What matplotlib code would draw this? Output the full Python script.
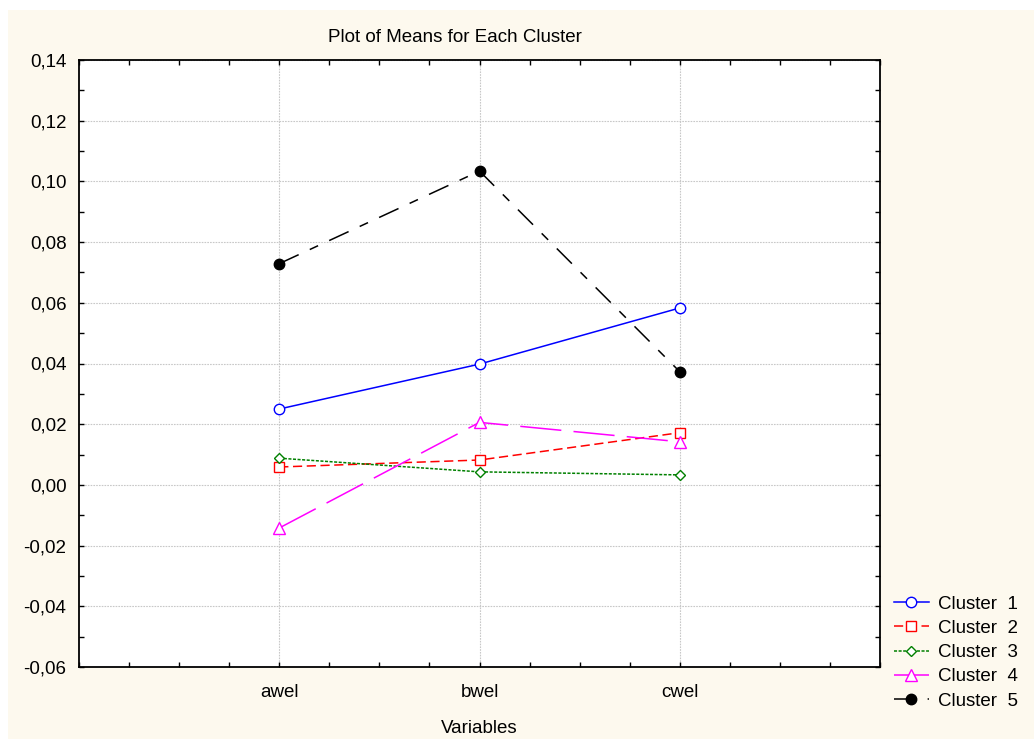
import matplotlib
matplotlib.use("Agg")
import matplotlib.pyplot as plt
from matplotlib.patches import Rectangle
from matplotlib.ticker import FixedLocator, MultipleLocator, FuncFormatter

plt.rcParams['font.family'] = ['Liberation Sans', 'DejaVu Sans']

# data
variables = ["awel", "bwel", "cwel"]
cluster_names = ["Cluster  1", "Cluster  2", "Cluster  3", "Cluster  4", "Cluster  5"]
cluster1 = [0.0250, 0.0398, 0.0583]
cluster2 = [0.0059, 0.0082, 0.0172]
cluster3 = [0.0088, 0.0043, 0.0033]
cluster4 = [-0.0142, 0.0206, 0.0142]
cluster5 = [0.0729, 0.1034, 0.0373]

W, H = 1034, 739
fig = plt.figure(figsize=(W / 100, H / 100), dpi=100, facecolor="white")
# cream panel behind everything
fig.patches.append(Rectangle((8 / W, 0), 1 - 8 / W, (H - 10) / H,
                             transform=fig.transFigure, facecolor="#fdf9ee",
                             edgecolor="none", zorder=-10))

ax = fig.add_axes([79 / W, (H - 667) / H, (880 - 79) / W, (667 - 60) / H])
ax.set_facecolor("white")

x = [1, 2, 3]
styles = [
    dict(data=cluster1, color="#0000ff", marker="o", ms=7.5, ls="-"),
    dict(data=cluster2, color="#ff0000", marker="s", ms=7.5, ls=(0, (6, 3))),
    dict(data=cluster3, color="#008000", marker="D", ms=5.5, ls=(0, (2, 1))),
    dict(data=cluster4, color="#ff00ff", marker="^", ms=8.5, ls=(0, (27, 8))),
    dict(data=cluster5, color="black", marker="o", ms=7.5, ls=(0, (14, 8, 6, 8))),
]
for name, st in zip(cluster_names, styles):
    filled = st["color"] == "black"
    ax.plot(x, st["data"], color=st["color"], ls=st["ls"], lw=1.1,
            marker=st["marker"], ms=st["ms"], mec=st["color"], mew=1.0,
            mfc=st["color"] if filled else "white", label=name, zorder=3)

ax.set_xlim(0, 4)
ax.set_ylim(-0.06, 0.14)
ax.xaxis.set_major_locator(FixedLocator(x))
ax.set_xticklabels(variables)
ax.xaxis.set_minor_locator(MultipleLocator(0.25))
ax.yaxis.set_major_locator(MultipleLocator(0.02))
ax.yaxis.set_minor_locator(MultipleLocator(0.01))
ax.yaxis.set_major_formatter(FuncFormatter(lambda v, p: f"{v:.2f}".replace(".", ",").replace("-0,00", "0,00")))

ax.grid(True, which="major", color="#c8c8c8", ls=(0, (1.5, 1)), lw=0.8, zorder=1)
ax.tick_params(which="both", direction="in", top=True, right=True, length=3.5, width=1.0,
               labelsize=13.5)
ax.tick_params(axis="y", pad=9)
ax.tick_params(axis="x", pad=12)
for s in ax.spines.values():
    s.set_linewidth(1.3)

ax.set_xlabel("Variables", fontsize=13.5, labelpad=14)
fig.text(455 / W, (H - 38) / H, "Plot of Means for Each Cluster", ha="center",
         va="center", fontsize=13.5)

ax.legend(loc="upper left", bbox_to_anchor=(886 / W, (H - 588) / H),
          bbox_transform=fig.transFigure, frameon=False, fontsize=13.5,
          handlelength=1.9, handletextpad=0.45, labelspacing=0.38, borderaxespad=0)

fig.savefig("out.png", dpi=100, facecolor=fig.get_facecolor())
